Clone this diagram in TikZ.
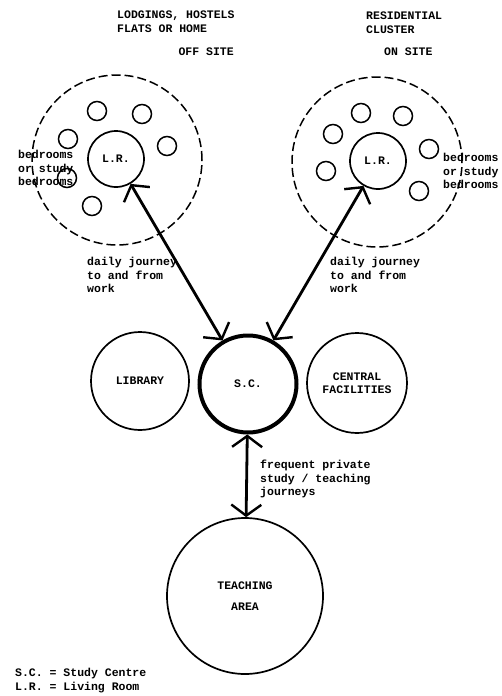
\documentclass[tikz,border=0pt]{standalone}
\usepackage{fontspec}
\setmonofont{Liberation Mono}
\usepackage{tikz}
\usetikzlibrary{
  arrows.meta,positioning,calc
}
\newcommand{\typefont}{\ttfamily\bfseries\fontsize{11.5}{13.5}\selectfont}

\begin{document}
\begin{tikzpicture}[x=1pt,y=-1pt,
    area/.style={circle,draw,line width=1.7pt,inner sep=0pt,align=center,font=\typefont},
    site/.style={circle,draw,line width=1.5pt,dash pattern=on 9pt off 4pt,inner sep=0pt},
    room/.style={circle,draw,line width=1.5pt,inner sep=0pt,minimum size=19pt},
    trip/.style={line width=2.8pt,{Straight Barb[length=11pt,width=30pt,line width=2.4pt]}-{Straight Barb[length=11pt,width=30pt,line width=2.4pt]}},
    note/.style={font=\typefont,align=left,inner sep=0pt}]
      \useasboundingbox (0,0) rectangle (502,696);
      % sleeping areas
      \node [site,minimum size=170pt] (offsite) at (117,160) {};
      \node [site,minimum size=170pt] (onsite) at (377,162) {};
      \node [area,minimum size=56pt] (lrL) at (116,159) {L.R.};
      \node [area,minimum size=56pt] (lrR) at (378,161) {L.R.};
      \foreach \p [count=\i] in {(97,111),(142,114),(68,139),(167,146),(67,178),(92,206)}
        \node [room] (bedL\i) at \p {};
      \foreach \p [count=\i] in {(361,113),(403,116),(333,134),(429,149),(326,171),(419,191)}
        \node [room] (bedR\i) at \p {};
      % working areas
      \node [area,minimum size=98pt] (library) at (140,381) {LIBRARY};
      \node [area,minimum size=97pt,line width=4pt] (sc) at (248,384) {S.C.};
      \node [area,minimum size=100pt] (central) at (357,383) {CENTRAL\\FACILITIES};
      \node [area,minimum size=156pt] (teach) at (245,596) {TEACHING\\[8pt]AREA};
      % journeys
      \draw [trip] (lrL) -- (sc);
      \draw [trip] (lrR) -- (sc);
      \draw [trip] (sc) -- (teach);
      % labels
      \node [note,anchor=north west] (lodgings) at (117,11) {LODGINGS, HOSTELS\\FLATS OR HOME};
      \node [note,anchor=east] (offlabel) at (234,52) {OFF SITE};
      \node [note,anchor=north west] (cluster) at (366,12) {RESIDENTIAL\\CLUSTER};
      \node [note,anchor=west] (onlabel) at (384,52) {ON SITE};
      \node [note,anchor=north west] (bedsL) at (18,150) {bedrooms\\or study\\bedrooms};
      \node [note,anchor=north west] (bedsR) at (443,153) {bedrooms\\or study\\bedrooms};
      \node [note,anchor=north west] (dailyL) at (87,257) {daily journey\\to and from\\work};
      \node [note,anchor=north west] (dailyR) at (330,257) {daily journey\\to and from\\work};
      \node [note,anchor=north west] (frequent) at (260,460) {frequent private\\study / teaching\\journeys};
      \node [note,anchor=north west] (legend) at (15,668) {S.C. = Study Centre\\L.R. = Living Room};
    \end{tikzpicture}
\end{document}
